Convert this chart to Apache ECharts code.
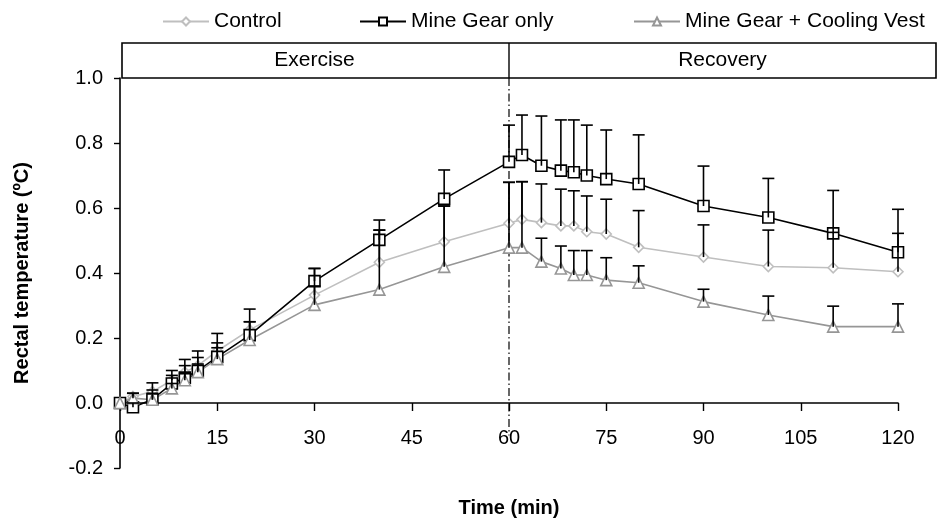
<!DOCTYPE html>
<html>
<head>
  <meta charset="utf-8">
  <title>Rectal temperature</title>
  <script src="https://cdn.jsdelivr.net/npm/echarts@6/dist/echarts.min.js"></script>
  <style>
    html, body { margin: 0; padding: 0; background: #fff; }
    #chart { width: 941px; height: 523px; }
  </style>
</head>
<body>
<div id="chart"></div>
<script type="text/javascript">
// time points (min)
var timeArr = [0, 2, 5, 8, 10, 12, 15, 20, 30, 40, 50, 60, 62, 65, 68, 70, 72, 75, 80, 90, 100, 110, 120];

// mean change in rectal temperature
var controlArr = [0, 0.02, 0.035, 0.07, 0.095, 0.115, 0.16, 0.225, 0.332, 0.433, 0.496, 0.553, 0.565, 0.555, 0.545, 0.545, 0.527, 0.52, 0.479, 0.449, 0.42, 0.416, 0.404];
var gearArr = [0, -0.013, 0.011, 0.06, 0.078, 0.099, 0.142, 0.209, 0.375, 0.502, 0.628, 0.742, 0.763, 0.73, 0.715, 0.71, 0.70, 0.689, 0.674, 0.606, 0.571, 0.522, 0.464];
var vestArr = [0, 0.015, 0.01, 0.045, 0.07, 0.095, 0.135, 0.194, 0.302, 0.349, 0.419, 0.478, 0.478, 0.435, 0.414, 0.394, 0.394, 0.378, 0.37, 0.312, 0.271, 0.235, 0.235];

// top of the error bars (mean + SD)
var controlTop = [null, 0.03, 0.062, 0.10, 0.134, 0.16, 0.214, 0.25, 0.36, 0.532, 0.606, 0.679, 0.681, 0.674, 0.658, 0.653, 0.637, 0.627, 0.592, 0.548, 0.532, 0.525, 0.522];
var gearTop = [null, 0.0, 0.04, 0.085, 0.115, 0.14, 0.185, 0.289, 0.414, 0.563, 0.717, 0.855, 0.886, 0.883, 0.871, 0.871, 0.855, 0.84, 0.825, 0.729, 0.691, 0.654, 0.596];
var vestTop = [null, 0.03, 0.03, 0.06, 0.09, 0.12, 0.17, 0.25, 0.414, 0.532, 0.606, 0.679, 0.681, 0.507, 0.483, 0.469, 0.469, 0.447, 0.422, 0.35, 0.329, 0.298, 0.305];

var phaseArr = ['Exercise', 'Recovery'];

var FONT = '"Liberation Sans", Arial, sans-serif';
var Y_MIN = -0.2, Y_MAX = 1.0;
var GRID_TOP = 78, GRID_BOTTOM = 55, H = 523;

function pairs(vals) {
  return timeArr.map(function (t, i) { return [t, vals[i]]; });
}
function errPairs(vals, tops) {
  var out = [];
  timeArr.forEach(function (t, i) {
    if (tops[i] != null) out.push([t, vals[i], tops[i]]);
  });
  return out;
}

function renderErr(params, api) {
  var p0 = api.coord([api.value(0), api.value(1)]);
  var p1 = api.coord([api.value(0), api.value(2)]);
  var style = { stroke: '#000', lineWidth: 1.6 };
  return {
    type: 'group',
    children: [
      { type: 'line', shape: { x1: p0[0], y1: p0[1], x2: p1[0], y2: p1[1] }, style: style },
      { type: 'line', shape: { x1: p1[0] - 6, y1: p1[1], x2: p1[0] + 6, y2: p1[1] }, style: style }
    ]
  };
}

function errSeries(vals, tops) {
  return {
    type: 'custom',
    renderItem: renderErr,
    data: errPairs(vals, tops),
    encode: { x: 0, y: [1, 2] },
    z: 5,
    silent: true
  };
}

function lineSeries(name, vals, color, symbol, size) {
  return {
    name: name,
    type: 'line',
    data: pairs(vals),
    symbol: symbol,
    symbolSize: size,
    showAllSymbol: true,
    lineStyle: { color: color, width: 1.6 },
    itemStyle: { color: '#fff', borderColor: color, borderWidth: 1.6 },
    z: 3
  };
}

// x axis sits at y = 0: shift it up from the grid bottom
var plotH = H - GRID_TOP - GRID_BOTTOM;
var zeroOffset = -(0 - Y_MIN) / (Y_MAX - Y_MIN) * plotH;

var chart = echarts.init(document.getElementById('chart'));

var legendBase = {
  top: 6,
  itemWidth: 46,
  itemHeight: 10,
  itemGap: 5,
  textStyle: { fontFamily: FONT, fontSize: 21, color: '#000' }
};

chart.setOption({
  animation: false,
  textStyle: { fontFamily: FONT },
  legend: [
    Object.assign({ left: 157, data: ['Control'] }, legendBase),
    Object.assign({ left: 354, data: ['Mine Gear only'] }, legendBase),
    Object.assign({ left: 628, data: ['Mine Gear + Cooling Vest'] }, legendBase)
  ],
  grid: { left: 120, right: 43, top: GRID_TOP, bottom: GRID_BOTTOM, containLabel: false, outerBoundsMode: 'none' },
  xAxis: {
    type: 'value',
    min: 0,
    max: 120,
    interval: 15,
    position: 'bottom',
    offset: zeroOffset,
    name: 'Time (min)',
    nameLocation: 'middle',
    nameGap: 95,
    nameTextStyle: { fontFamily: FONT, fontSize: 20, fontWeight: 'bold', color: '#000' },
    axisLine: { onZero: false, lineStyle: { color: '#000', width: 1.6 } },
    axisTick: { show: true, length: 8, lineStyle: { color: '#000', width: 1.4 } },
    axisLabel: { margin: 25, fontSize: 20, color: '#000', fontFamily: FONT },
    splitLine: { show: false }
  },
  yAxis: {
    type: 'value',
    min: Y_MIN,
    max: Y_MAX,
    interval: 0.2,
    name: 'Rectal temperature (ºC)',
    nameLocation: 'middle',
    nameGap: 88,
    nameTextStyle: { fontFamily: FONT, fontSize: 20, fontWeight: 'bold', color: '#000' },
    axisLine: { show: true, lineStyle: { color: '#000', width: 1.6 } },
    axisTick: { show: true, length: 6, lineStyle: { color: '#000', width: 1.4 } },
    axisLabel: {
      margin: 17,
      fontSize: 20,
      color: '#000',
      fontFamily: FONT,
      formatter: function (v) { return v.toFixed(1); }
    },
    splitLine: { show: false }
  },
  series: [
    {
      type: 'line',
      data: [[60, 1.0], [60, -0.1]],
      symbol: 'none',
      lineStyle: { color: '#000', width: 1.2, type: [8, 3, 1.5, 3] },
      z: 1,
      silent: true
    },
    lineSeries('Control', controlArr, '#bfbfbf', 'diamond', 10),
    lineSeries('Mine Gear only', gearArr, '#000000', 'rect', 11),
    lineSeries('Mine Gear + Cooling Vest', vestArr, '#969696', 'triangle', 11),
    errSeries(controlArr, controlTop),
    errSeries(gearArr, gearTop),
    errSeries(vestArr, vestTop)
  ]
});

// phase band above the plot
var xl = chart.convertToPixel({ xAxisIndex: 0 }, 0);
var xm = chart.convertToPixel({ xAxisIndex: 0 }, 60);
var yt = chart.convertToPixel({ yAxisIndex: 0 }, 1.0);
var bandTop = 43, bandRight = 936;
chart.setOption({
  graphic: [
    { type: 'rect', shape: { x: xl + 2, y: bandTop, width: bandRight - xl - 2, height: yt - bandTop },
      style: { fill: '#fff', stroke: '#000', lineWidth: 1.6 } },
    { type: 'line', shape: { x1: xm, y1: bandTop, x2: xm, y2: yt }, style: { stroke: '#000', lineWidth: 1.4 } },
    { type: 'text', x: (xl + xm) / 2, y: (bandTop + yt) / 2,
      style: { text: phaseArr[0], font: '21px ' + FONT, fill: '#000', align: 'center', verticalAlign: 'middle' } },
    { type: 'text', x: (xm + bandRight) / 2, y: (bandTop + yt) / 2,
      style: { text: phaseArr[1], font: '21px ' + FONT, fill: '#000', align: 'center', verticalAlign: 'middle' } }
  ]
});
</script>
</body>
</html>
